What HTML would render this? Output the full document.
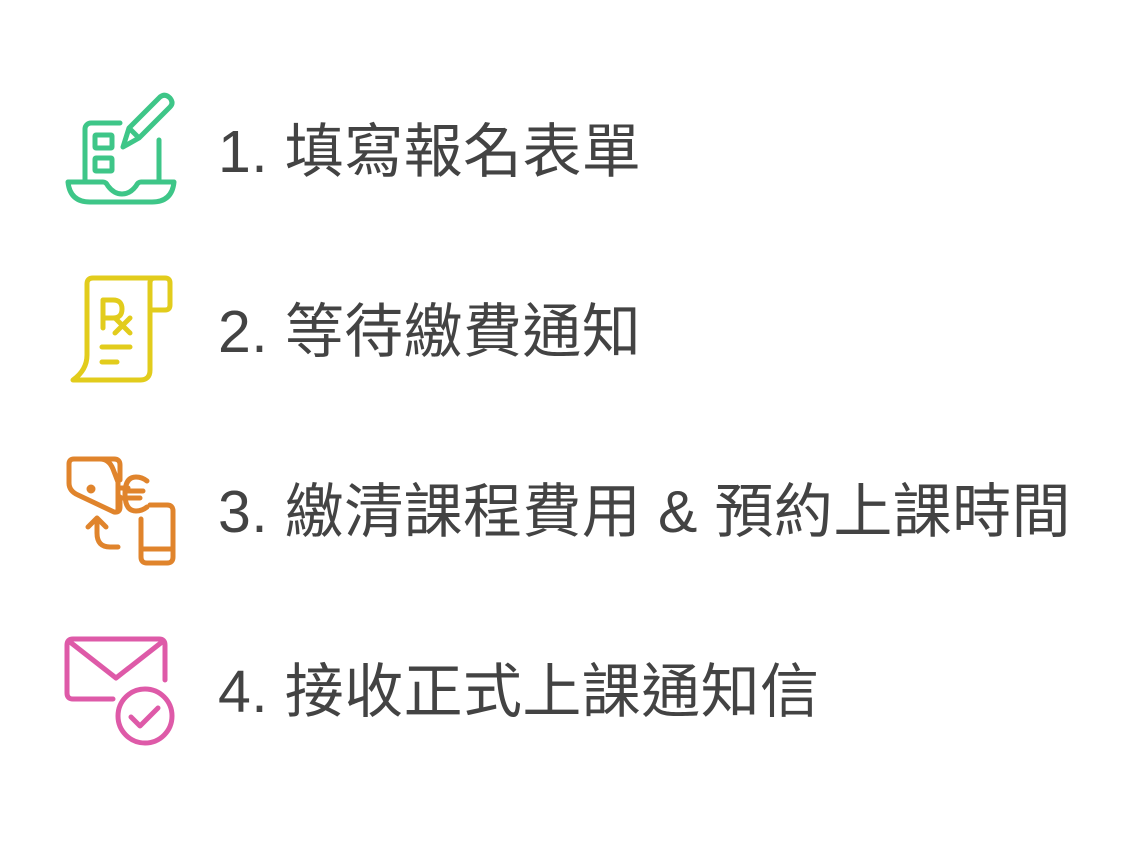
<!DOCTYPE html>
<html><head><meta charset="utf-8"><style>
html,body{margin:0;padding:0;background:#fff;width:1147px;height:850px;overflow:hidden}
.t{position:absolute;left:218px;font-family:"Liberation Sans","Noto Sans CJK TC",sans-serif;font-size:59px;letter-spacing:0.4px;color:#434343;line-height:1;white-space:nowrap}
svg{position:absolute;left:0;top:0}
</style></head><body>
<svg width="1147" height="850" fill="none" stroke-linecap="round" stroke-linejoin="round" stroke-width="5">
<g stroke="#3ec688">
<path d="M120 123 H91 a6 6 0 0 0-6 6 V180"/>
<path d="M159 140 V180"/>
<rect x="95" y="135" width="17" height="13" rx="1"/>
<rect x="95" y="158" width="17" height="13" rx="1"/>
<path d="M68 182 H103 q3 0 5 4 q6 8 14 8 q8 0 14-8 q2-4 5-4 H174 q-2 20-22 20 H90 q-20 0-22-20z"/>
<path d="M123 147 L129 128 L160 97 q5-4 10 1 q4 5 0 9 L139 138 z M129 128 L139 138"/>
</g>
<g stroke="#e2cc1c">
<path d="M150 283 q0-5 5-5 h10 q5 0 5 5 v22 q0 5-5 5 h-15"/>
<path d="M155 278 H93 q-6 0-6 6 V355 q0 15-14 25 H140 q10 0 10-10 V283"/>
<path d="M103 328 V300 h10 q9 0 9 9 q0 9-9 9 h-10 M115 318 L130 333 M130 318 L115 333"/>
<path d="M102 347 H130 M102 362 H117"/>
</g>
<g stroke="#e0842c">
<path d="M74 459 h40 q6 0 6 6 v15 M120 497 v10 q0 6-6 5 L78 495 q-9-4-9-12 V464 q0-5 5-5 M100 459 q9 0 13 10 l5 13 V510"/>
<circle cx="91" cy="489" r="2" fill="#e0842c"/>
<path d="M118 498 H128 M118 488 H128"/>
<path d="M147 481 q-5-4-11-4 q-11 0-11 17 q0 17 11 17 q6 0 11-4 M125 491 H143 M125 498 H140"/>
<path d="M150 505 h17 q6 0 6 6 v46 q0 6-6 6 h-20 q-6 0-6-6 V519 M141 549 H173"/>
<path d="M118 547 h-8 q-13 0-13-14 v-14 M88 527 L97 518 L106 527"/>
</g>
<g stroke="#de5aa8">
<path d="M113 699 H73 q-6 0-6-6 V645 q0-6 6-6 H159 q6 0 6 6 V680"/>
<path d="M70 642 L116 678 L162 642"/>
<circle cx="145" cy="716" r="27"/>
<path d="M131 717 L140 726 L158 708"/>
</g>
</svg>
<div class="t" style="top:123px">1. 填寫報名表單</div>
<div class="t" style="top:303px">2. 等待繳費通知</div>
<div class="t" style="top:483px">3. 繳清課程費用 &amp; 預約上課時間</div>
<div class="t" style="top:663px">4. 接收正式上課通知信</div>
</body></html>
